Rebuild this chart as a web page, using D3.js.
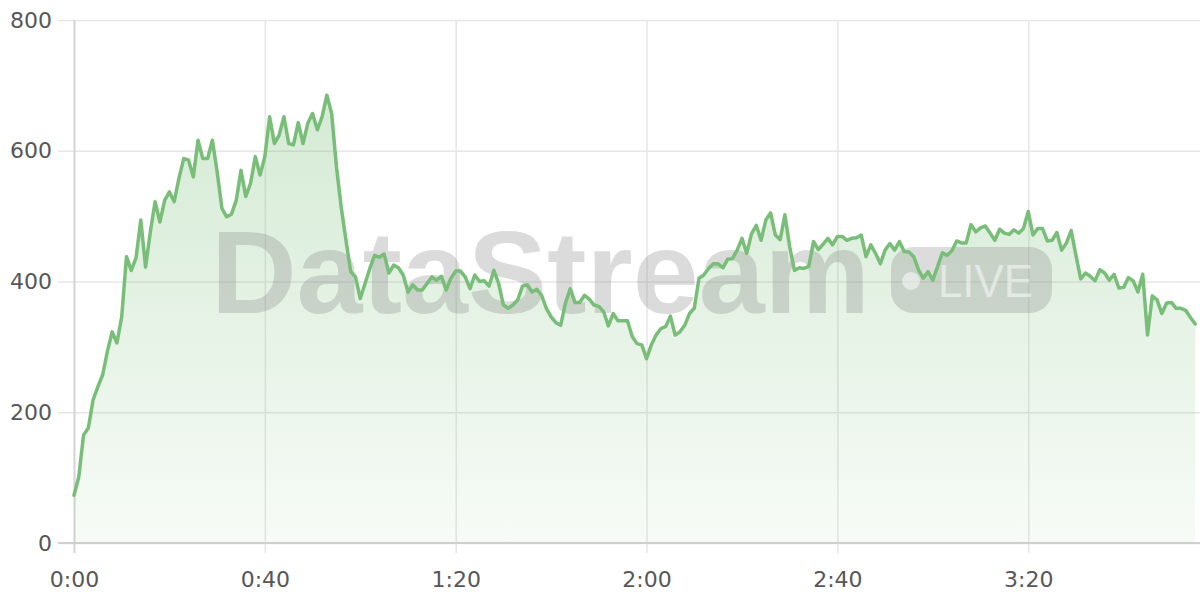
<!DOCTYPE html>
<html>
<head>
<meta charset="utf-8">
<script src="https://cdn.jsdelivr.net/npm/d3@7"></script>
<style>
html,body{margin:0;padding:0;background:#fff;}
svg{display:block;}
</style>
</head>
<body>
<svg id="chart" width="1200" height="600"></svg>
<script>
// seconds 0..235, one value per second
const values = [
 73,101,165,176,219,239,257,293,323,306,
 346,438,417,436,494,422,476,522,491,524,
 537,522,558,588,586,560,616,588,588,616,
 568,512,499,503,524,570,530,550,591,563,
 591,652,611,624,652,611,609,643,611,642,
 657,632,652,685,657,576,514,463,415,407,
 374,397,420,440,437,442,413,425,421,410,
 384,395,387,387,397,407,402,408,387,405,
 416,416,407,389,410,400,401,393,417,397,
 364,359,364,372,393,395,384,388,379,359,
 346,337,333,367,389,368,368,379,373,364,
 362,354,332,351,340,340,340,316,305,303,
 282,303,318,328,331,347,318,323,333,351,
 359,405,410,420,427,427,421,434,435,448,
 466,443,473,486,463,494,505,471,464,502,
 453,417,421,420,423,461,449,457,466,456,
 469,469,463,466,467,471,438,456,443,427,
 448,458,448,461,446,445,438,418,405,415,
 402,423,444,440,447,462,459,459,487,476,
 482,485,474,463,480,474,472,479,474,481,
 507,471,481,481,462,463,475,448,459,478,
 440,404,413,408,401,418,413,402,411,390,
 391,406,401,384,411,318,378,372,351,367,
 368,359,359,356,345,335
];
const seconds = values.map((d, i) => i);
const xTicks = [0, 40, 80, 120, 160, 200];
const xTickLabels = ["0:00", "0:40", "1:20", "2:00", "2:40", "3:20"];
const yTicks = [0, 200, 400, 600, 800];
const watermarkText = "DataStream";
const badgeText = "LIVE";

(function () {
const mLeft = 74, mTop = 20, mBottom = 543, mRight = 1200;
const svg = d3.select("#chart");
const font = "'DejaVu Sans', Verdana, sans-serif";

const x = d3.scaleLinear().domain([0, 236]).range([mLeft, mRight]);
const y = d3.scaleLinear().domain([0, 800]).range([mBottom, mTop]);

const defs = svg.append("defs");
const grad = defs.append("linearGradient")
  .attr("id", "areaGrad").attr("gradientUnits", "userSpaceOnUse")
  .attr("x1", 0).attr("x2", 0).attr("y1", mTop).attr("y2", mBottom);
grad.append("stop").attr("offset", "0%").attr("stop-color", "#78bd78").attr("stop-opacity", 0.36);
grad.append("stop").attr("offset", "100%").attr("stop-color", "#78bd78").attr("stop-opacity", 0.06);

// horizontal grid
const yGrid = svg.append("g").attr("transform", `translate(${mLeft},0)`)
  .call(d3.axisLeft(y).tickValues(yTicks).tickSize(-(mRight - mLeft)).tickFormat(""));
yGrid.select(".domain").remove();
yGrid.selectAll("line").attr("stroke", "#e6e6e6").attr("stroke-width", 1.5);

// y labels with small outer ticks
const yAxis = svg.append("g").attr("transform", `translate(${mLeft},0)`)
  .call(d3.axisLeft(y).tickValues(yTicks).tickSize(16).tickPadding(6));
yAxis.select(".domain").remove();
yAxis.selectAll("line").attr("stroke", "#e6e6e6").attr("stroke-width", 1.5);
yAxis.selectAll("text").attr("fill", "#575757").attr("font-size", 22).attr("font-family", font);

// vertical grid
const xGrid = svg.append("g").attr("transform", `translate(0,${mBottom})`)
  .call(d3.axisBottom(x).tickValues(xTicks).tickSize(-(mBottom - mTop)).tickFormat(""));
xGrid.select(".domain").remove();
xGrid.selectAll("line").attr("stroke", (d) => d === 0 ? "#d4d4d4" : "#e6e6e6")
  .attr("stroke-width", (d) => d === 0 ? 2 : 1.5);

// x axis labels
const xAxis = svg.append("g").attr("transform", `translate(0,${mBottom})`)
  .call(d3.axisBottom(x).tickValues(xTicks).tickSize(10).tickPadding(18)
    .tickFormat((d, i) => xTickLabels[i]));
xAxis.select(".domain").remove();
xAxis.selectAll("line").attr("stroke", (d) => d === 0 ? "#d4d4d4" : "#e6e6e6")
  .attr("stroke-width", (d) => d === 0 ? 2 : 1.5);
xAxis.selectAll("text").attr("fill", "#575757").attr("font-size", 22).attr("font-family", font);

// baseline
svg.append("line").attr("x1", mLeft - 16).attr("x2", mRight)
  .attr("y1", y(0)).attr("y2", y(0)).attr("stroke", "#d0d0d0").attr("stroke-width", 2);

// area
const area = d3.area().x((d, i) => x(seconds[i])).y0(y(0)).y1((d) => y(d));
svg.append("path").datum(values).attr("d", area).attr("fill", "url(#areaGrad)");

// watermark
const wm = svg.append("g").attr("pointer-events", "none");
wm.append("text").attr("x", 211).attr("y", 313)
  .attr("font-family", "'Liberation Sans', Arial, Helvetica, sans-serif")
  .attr("font-weight", "bold").attr("font-size", 116)
  .attr("textLength", 659).attr("lengthAdjust", "spacingAndGlyphs")
  .attr("fill", "#8a8a8a").attr("fill-opacity", 0.31).text(watermarkText);
wm.append("rect").attr("x", 891).attr("y", 247).attr("width", 161).attr("height", 66).attr("rx", 22)
  .attr("fill", "#8a8a8a").attr("fill-opacity", 0.3);
wm.append("circle").attr("cx", 911).attr("cy", 281).attr("r", 9)
  .attr("fill", "#ffffff").attr("fill-opacity", 0.5);
wm.append("text").attr("x", 938).attr("y", 297)
  .attr("font-family", "'Liberation Sans', Arial, Helvetica, sans-serif")
  .attr("font-size", 46).attr("textLength", 95).attr("lengthAdjust", "spacingAndGlyphs")
  .attr("fill", "#ffffff").attr("fill-opacity", 0.5).text(badgeText);

// line
const line = d3.line().x((d, i) => x(seconds[i])).y((d) => y(d));
svg.append("path").datum(values).attr("d", line)
  .attr("fill", "none").attr("stroke", "#78bd78").attr("stroke-width", 3.5)
  .attr("stroke-linejoin", "round").attr("stroke-linecap", "round");
})();
</script>
</body>
</html>
